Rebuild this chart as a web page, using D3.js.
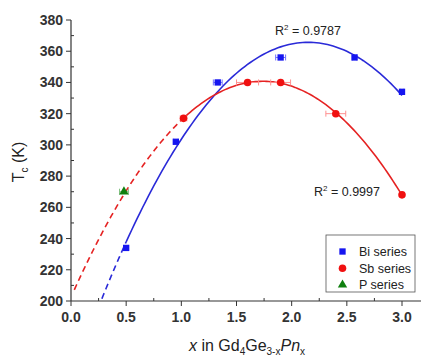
<!DOCTYPE html>
<html>
<head>
<meta charset="utf-8">
<script src="https://cdn.jsdelivr.net/npm/d3@7"></script>
<style>
  body { margin: 0; background: #fff; }
  text { font-family: Arial, "Liberation Sans", sans-serif; }
</style>
</head>
<body>
<div id="chart"></div>
<script>
// Veriler
const biX = [0.5, 0.95, 1.33, 1.9, 2.57, 3.0];
const biY = [234, 302, 340, 356, 356, 334];
const biErr = [0.02, 0.02, 0.04, 0.045, 0.02, 0.015];

const sbX = [1.02, 1.6, 1.9, 2.4, 3.0];
const sbY = [317, 340, 340, 320, 268];
const sbErr = [0.03, 0.1, 0.09, 0.09, 0.02];

const pX = [0.48];
const pY = [270];
const pErr = [0.04];

const xTicks = [0.0, 0.5, 1.0, 1.5, 2.0, 2.5, 3.0];
const yTicks = [200, 220, 240, 260, 280, 300, 320, 340, 360, 380];
const fitStart = { bi: 0.28, sb: 0.03 };
const r2Labels = ['0.9787', '0.9997'];
const legendNames = ['Bi series', 'Sb series', 'P series'];

const width = 421, height = 357;
const plotLeft = 71, plotTop = 20, plotBottom = 301;

const x = d3.scaleLinear().domain([0, 3]).range([plotLeft, 402]);
const y = d3.scaleLinear().domain([200, 380]).range([plotBottom, plotTop]);

const svg = d3.select('#chart').append('svg')
  .attr('width', width).attr('height', height);

svg.append('defs').append('clipPath').attr('id', 'plot')
  .append('rect').attr('x', plotLeft).attr('y', plotTop)
  .attr('width', width - plotLeft).attr('height', plotBottom - plotTop);

// İkinci dereceden en küçük kareler uydurma
function quadFit(xs, ys) {
  let s = [0, 0, 0, 0, 0], t = [0, 0, 0];
  xs.forEach((xv, i) => {
    for (let k = 0; k < 5; k++) s[k] += Math.pow(xv, k);
    for (let k = 0; k < 3; k++) t[k] += Math.pow(xv, k) * ys[i];
  });
  const M = [[s[0], s[1], s[2], t[0]], [s[1], s[2], s[3], t[1]], [s[2], s[3], s[4], t[2]]];
  for (let i = 0; i < 3; i++) {
    for (let j = i + 1; j < 3; j++) {
      const f = M[j][i] / M[i][i];
      for (let k = i; k < 4; k++) M[j][k] -= f * M[i][k];
    }
  }
  const c = [0, 0, 0];
  for (let i = 2; i >= 0; i--) {
    let v = M[i][3];
    for (let k = i + 1; k < 3; k++) v -= M[i][k] * c[k];
    c[i] = v / M[i][i];
  }
  return xv => c[0] + c[1] * xv + c[2] * xv * xv;
}

function sample(f, a, b) {
  return d3.range(0, 101).map(i => {
    const xv = a + (b - a) * i / 100;
    return [xv, f(xv)];
  });
}

const line = d3.line().x(d => x(d[0])).y(d => y(d[1]));
const curves = svg.append('g').attr('clip-path', 'url(#plot)');

const fits = [
  { xs: biX, ys: biY, start: fitStart.bi, color: '#2a2ad8' },
  { xs: sbX, ys: sbY, start: fitStart.sb, color: '#e52222' }
];
fits.forEach(s => {
  const f = quadFit(s.xs, s.ys);
  const x0 = d3.min(s.xs), x1 = d3.max(s.xs);
  curves.append('path').attr('d', line(sample(f, s.start, x0)))
    .attr('fill', 'none').attr('stroke', s.color).attr('stroke-width', 1.6)
    .attr('stroke-dasharray', '6,4');
  curves.append('path').attr('d', line(sample(f, x0, x1)))
    .attr('fill', 'none').attr('stroke', s.color).attr('stroke-width', 1.6);
});

// Eksenler
const axisColor = '#333';
const g = svg.append('g');
g.append('line').attr('x1', plotLeft).attr('x2', width).attr('y1', plotBottom).attr('y2', plotBottom)
  .attr('stroke', axisColor).attr('stroke-width', 1.2);
g.append('line').attr('x1', plotLeft).attr('x2', plotLeft).attr('y1', plotTop).attr('y2', plotBottom)
  .attr('stroke', axisColor).attr('stroke-width', 1.2);

xTicks.forEach(t => {
  g.append('line').attr('x1', x(t)).attr('x2', x(t)).attr('y1', plotBottom).attr('y2', plotBottom + 5)
    .attr('stroke', axisColor);
  g.append('line').attr('x1', x(t + 0.25)).attr('x2', x(t + 0.25)).attr('y1', plotBottom).attr('y2', plotBottom - 3)
    .attr('stroke', axisColor);
  g.append('text').attr('x', x(t)).attr('y', plotBottom + 21).attr('text-anchor', 'middle')
    .attr('font-size', 14).attr('font-weight', 'bold').attr('fill', '#333')
    .text(d3.format('.1f')(t));
});
yTicks.forEach(t => {
  g.append('line').attr('x1', plotLeft - 5).attr('x2', plotLeft).attr('y1', y(t)).attr('y2', y(t))
    .attr('stroke', axisColor);
  if (t < 380) {
    g.append('line').attr('x1', plotLeft).attr('x2', plotLeft + 3).attr('y1', y(t + 10)).attr('y2', y(t + 10))
      .attr('stroke', axisColor);
  }
  g.append('text').attr('x', plotLeft - 8).attr('y', y(t) + 5).attr('text-anchor', 'end')
    .attr('font-size', 14).attr('font-weight', 'bold').attr('fill', '#333')
    .text(t);
});

// Hata çubukları ve işaretçiler
function errBars(xs, ys, errs, color) {
  xs.forEach((xv, i) => {
    const e = errs[i], yy = y(ys[i]);
    g.append('line').attr('x1', x(xv - e)).attr('x2', x(xv + e)).attr('y1', yy).attr('y2', yy)
      .attr('stroke', color).attr('stroke-width', 1);
    [xv - e, xv + e].forEach(v => {
      g.append('line').attr('x1', x(v)).attr('x2', x(v)).attr('y1', yy - 3).attr('y2', yy + 3)
        .attr('stroke', color).attr('stroke-width', 1);
    });
  });
}
errBars(biX, biY, biErr, '#7070ff');
errBars(sbX, sbY, sbErr, '#ff9090');
errBars(pX, pY, pErr, '#7fbf7f');

const sqSym = d3.symbol().type(d3.symbolSquare).size(40);
const ciSym = d3.symbol().type(d3.symbolCircle).size(45);
const trSym = d3.symbol().type(d3.symbolTriangle).size(38);

biX.forEach((xv, i) => g.append('path').attr('d', sqSym())
  .attr('transform', `translate(${x(xv)},${y(biY[i])})`).attr('fill', '#1515f0'));
sbX.forEach((xv, i) => g.append('path').attr('d', ciSym())
  .attr('transform', `translate(${x(xv)},${y(sbY[i])})`).attr('fill', '#f01010'));
pX.forEach((xv, i) => g.append('path').attr('d', trSym())
  .attr('transform', `translate(${x(xv)},${y(pY[i])})`).attr('fill', '#108010'));

// R² etiketleri
function r2(xp, yp, val) {
  const t = svg.append('text').attr('x', xp).attr('y', yp).attr('font-size', 12.5).attr('fill', '#222');
  t.append('tspan').text('R');
  t.append('tspan').attr('font-size', 8).attr('dy', -5).text('2');
  t.append('tspan').attr('dy', 5).text(' = ' + val);
}
r2(275, 35, r2Labels[0]);
r2(314, 196, r2Labels[1]);

// Lejant
const lg = svg.append('g');
lg.append('rect').attr('x', 326).attr('y', 235).attr('width', 89).attr('height', 57)
  .attr('fill', '#fff').attr('stroke', '#555').attr('stroke-width', 0.8);
const legSyms = [[sqSym, '#1515f0'], [ciSym, '#f01010'], [trSym, '#108010']];
legendNames.forEach((name, i) => {
  const yy = 251.5 + i * 16.7;
  lg.append('path').attr('d', legSyms[i][0]()).attr('transform', `translate(342.5,${yy})`)
    .attr('fill', legSyms[i][1]);
  lg.append('text').attr('x', 359).attr('y', yy + 4.5).attr('font-size', 12.5).attr('fill', '#222')
    .text(name);
});

// Eksen başlıkları
const yt = svg.append('text').attr('transform', 'translate(24,162) rotate(-90)')
  .attr('text-anchor', 'middle').attr('font-size', 16).attr('fill', '#222');
yt.append('tspan').text('T');
yt.append('tspan').attr('font-size', 10).attr('dy', 4).text('c');
yt.append('tspan').attr('dy', -4).text(' (K)');

const xt = svg.append('text').attr('x', 247).attr('y', 351)
  .attr('text-anchor', 'middle').attr('font-size', 16).attr('fill', '#222');
xt.append('tspan').attr('font-style', 'italic').text('x');
xt.append('tspan').text(' in Gd');
xt.append('tspan').attr('font-size', 10).attr('dy', 4).text('4');
xt.append('tspan').attr('dy', -4).text('Ge');
xt.append('tspan').attr('font-size', 10).attr('dy', 4).text('3-x');
xt.append('tspan').attr('dy', -4).attr('font-style', 'italic').text('Pn');
xt.append('tspan').attr('font-size', 10).attr('dy', 4).text('x');
</script>
</body>
</html>
